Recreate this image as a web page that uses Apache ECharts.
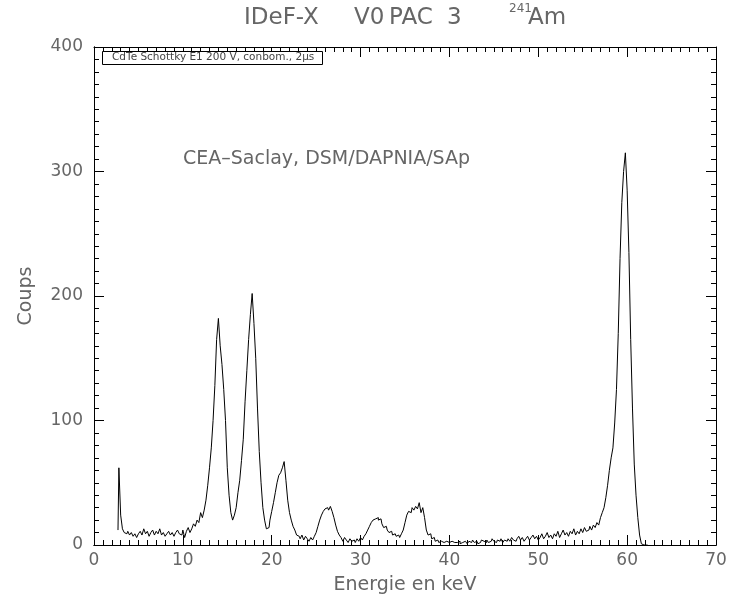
<!DOCTYPE html>
<html>
<head>
<meta charset="utf-8">
<script src="https://cdn.jsdelivr.net/npm/echarts@6/dist/echarts.min.js"></script>
<style>
  html, body { margin: 0; padding: 0; background: #ffffff; }
  #chart { width: 733px; height: 601px; }
</style>
</head>
<body>
<div id="chart"></div>
<script>
// 241Am spectrum, one value per 0.2 keV channel
const ENERGY_START = 2.7;   // keV of the first channel
const ENERGY_STEP = 0.2;    // keV per channel
const counts = [
  12, 62, 24, 13, 10, 9, 11, 8, 10, 7,            // 2.7 - 4.5
  9, 6, 9, 11, 8, 13, 9, 11, 7, 10,               // 4.7 - 6.5
  12, 8, 11, 9, 13, 8, 10, 7, 9, 11,              // 6.7 - 8.5
  8, 10, 7, 10, 12, 9, 8, 12, 6, 11,              // 8.7 - 10.5
  14, 10, 13, 17, 15, 20, 18, 26, 22, 28,         // 10.7 - 12.5
  36, 48, 62, 78, 100, 128, 165, 182, 160, 145,   // 12.7 - 14.5
  125, 100, 62, 40, 26, 20, 24, 30, 42, 52,       // 14.7 - 16.5
  68, 85, 115, 140, 165, 185, 202, 178, 150, 110, // 16.7 - 18.5
  75, 50, 30, 20, 13, 14, 20, 27, 34, 42,         // 18.7 - 20.5
  50, 56, 58, 62, 67, 52, 36, 26, 20, 15,         // 20.7 - 22.5
  12, 8, 7, 5, 8, 4, 7, 5, 3, 6,                  // 22.7 - 24.5
  4, 7, 10, 15, 20, 24, 27, 29, 30, 28,           // 24.7 - 26.5
  31, 27, 22, 16, 11, 8, 6, 3, 6, 4,              // 26.7 - 28.5
  2, 5, 3, 4, 2, 5, 3, 6, 4, 7,                   // 28.7 - 30.5
  9, 12, 15, 18, 20, 21, 22, 20, 21, 17,          // 30.7 - 32.5
  14, 15, 12, 10, 11, 8, 9, 7, 8, 6,              // 32.7 - 34.5
  9, 12, 18, 24, 27, 26, 30, 28, 31, 29,          // 34.7 - 36.5
  34, 26, 30, 22, 12, 8, 9, 5, 6, 3,              // 36.7 - 38.5
  4, 2, 3, 2, 1, 3, 2, 1, 3, 2,                   // 38.7 - 40.5
  1, 2, 3, 1, 2, 3, 2, 1, 3, 2,                   // 40.7 - 42.5
  4, 2, 3, 1, 2, 4, 3, 2, 4, 2,                   // 42.7 - 44.5
  3, 5, 3, 2, 4, 3, 5, 2, 4, 3,                   // 44.7 - 46.5
  5, 3, 6, 4, 3, 5, 7, 4, 6, 3,                   // 46.7 - 48.5
  5, 7, 4, 6, 8, 5, 7, 4, 6, 9,                   // 48.7 - 50.5
  5, 7, 10, 6, 8, 5, 9, 7, 11, 6,                 // 50.7 - 52.5
  9, 12, 8, 10, 7, 11, 9, 13, 8, 11,              // 52.7 - 54.5
  9, 13, 10, 14, 11, 12, 15, 12, 16, 14,          // 54.7 - 56.5
  18, 16, 22, 26, 30, 38, 48, 60, 70, 78,         // 56.7 - 58.5
  98, 125, 170, 230, 275, 300, 315, 285, 235, 165,// 58.7 - 60.5
  110, 65, 40, 22, 8, 1, 0, 0, 0                  // 60.7 - 62.3
];

const xTickValues = [0, 10, 20, 30, 40, 50, 60, 70];
const yTickValues = [0, 100, 200, 300, 400];

const titleParts = ['IDeF-X', 'V0', 'PAC', '3'];
const titleIsotopeMass = '241';
const titleIsotope = 'Am';
const setupLabel = 'CdTe Schottky E1 200 V, conbom., 2\u00b5s';
const labLabel = 'CEA\u2013Saclay, DSM/DAPNIA/SAp';
const xName = 'Energie en keV';
const yName = 'Coups';

const spectrum = counts.map((c, i) => [+(ENERGY_START + i * ENERGY_STEP).toFixed(2), c]);

const FONT = 'DejaVu Sans';
const TXT = '#666666';

// plot frame in pixels
const G = { left: 94, right: 17, top: 47, bottom: 56 };
const PLOT_W = 733 - G.left - G.right;
const PLOT_H = 601 - G.top - G.bottom;

const X_RANGE = { min: xTickValues[0], max: xTickValues[xTickValues.length - 1], interval: 10 };
const Y_RANGE = { min: yTickValues[0], max: yTickValues[yTickValues.length - 1], interval: 100 };

const labelStyle = { color: TXT, fontFamily: FONT, fontSize: 17, fontWeight: 'normal' };
const nameStyle = { color: TXT, fontFamily: FONT, fontSize: 19, fontWeight: 'normal' };

// an axis that only carries labels and the axis title
function labelAxis(range, position, margin, name, nameGap) {
  return Object.assign({
    type: 'value', position: position,
    axisLine: { show: true, onZero: false, lineStyle: { color: '#000', width: 1 } },
    axisTick: { show: false },
    minorTick: { show: false },
    splitLine: { show: false },
    axisLabel: Object.assign({ show: true, margin: margin }, labelStyle),
    name: name, nameLocation: 'middle', nameGap: nameGap,
    nameTextStyle: nameStyle
  }, range);
}

// an axis that only draws tick marks, pointing into the plot
function tickAxis(range, position, offset, majorLen) {
  return Object.assign({
    type: 'value', position: position, offset: offset,
    axisLine: { show: true, onZero: false, lineStyle: { color: '#000', width: 1 } },
    axisTick: { show: true, inside: false, length: majorLen, lineStyle: { color: '#000', width: 1 } },
    minorTick: { show: true, splitNumber: 10, length: 5, lineStyle: { color: '#000', width: 1 } },
    splitLine: { show: false },
    axisLabel: { show: false }
  }, range);
}

const titleToken = { fontFamily: FONT, fontSize: 23, fontWeight: 'normal', color: TXT, lineHeight: 30 };

const chart = echarts.init(document.getElementById('chart'), null, { renderer: 'canvas' });

chart.setOption({
  backgroundColor: '#ffffff',
  animation: false,
  grid: {
    left: G.left, right: G.right, top: G.top, bottom: G.bottom,
    containLabel: false, outerBoundsMode: 'none'
  },
  title: {
    text: '{a|' + titleParts[0] + '}{b|' + titleParts[1] + '}{c|' + titleParts[2] + '}{d|' +
      titleParts[3] + '}{sup|' + titleIsotopeMass + '}{e|' + titleIsotope + '}',
    left: 244,
    top: 3,
    padding: 0,
    textStyle: {
      fontWeight: 'normal',
      rich: {
        a: Object.assign({ width: 110 }, titleToken),
        b: Object.assign({ width: 35 }, titleToken),
        c: Object.assign({ width: 58 }, titleToken),
        d: Object.assign({ width: 62 }, titleToken),
        sup: { fontFamily: FONT, fontSize: 12, fontWeight: 'normal', color: TXT, verticalAlign: 'top',
               padding: [0, 0, 11, 0], width: 19 },
        e: Object.assign({}, titleToken)
      }
    }
  },
  xAxis: [
    labelAxis(X_RANGE, 'bottom', 7, xName, 31),
    tickAxis(X_RANGE, 'top', -PLOT_H, 10),     // ticks along the bottom edge
    tickAxis(X_RANGE, 'bottom', -PLOT_H, 10)   // ticks along the top edge
  ],
  yAxis: [
    labelAxis(Y_RANGE, 'left', 11, yName, 58),
    tickAxis(Y_RANGE, 'right', -PLOT_W, 10),   // ticks along the left edge
    tickAxis(Y_RANGE, 'left', -PLOT_W, 10)     // ticks along the right edge
  ],
  graphic: [
    {
      type: 'rect',
      left: 102, top: 51,
      shape: { width: 220, height: 13 },
      style: { fill: '#fff', stroke: '#000', lineWidth: 1 },
      z: 10
    },
    {
      type: 'text',
      left: 112, top: 52,
      style: { text: setupLabel, fill: '#444', font: '10.5px "DejaVu Sans"' },
      z: 11
    },
    {
      type: 'text',
      left: 183, top: 150,
      style: { text: labLabel, fill: TXT, font: '19px "DejaVu Sans"' },
      z: 11
    }
  ],
  series: [
    {
      type: 'line',
      xAxisIndex: 0,
      yAxisIndex: 0,
      data: spectrum,
      step: 'middle',
      showSymbol: false,
      symbol: 'none',
      lineStyle: { color: '#000', width: 1 },
      silent: true
    }
  ]
});
</script>
</body>
</html>
